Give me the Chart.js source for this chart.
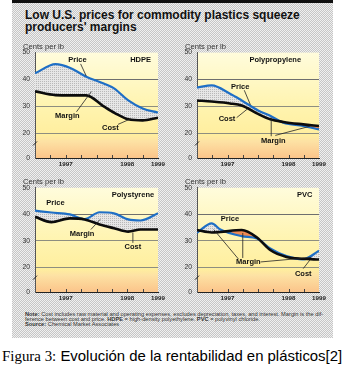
<!DOCTYPE html>
<html><head><meta charset="utf-8">
<script src="https://cdn.jsdelivr.net/npm/chart.js@4.4.1/dist/chart.umd.min.js"></script>
<style>
html,body{margin:0;padding:0;background:#fff}
body{width:345px;height:378px;position:relative;overflow:hidden;font-family:"Liberation Sans",Arial,sans-serif}
#box{position:absolute;left:12px;top:0;width:321px;height:338px;background:repeating-conic-gradient(#c6c6c6 0% 25%,#f0f0f0 0% 50%) 0 0/2px 2px}
#bar{position:absolute;left:12px;top:0;width:321px;height:3px;background:#111}
#title{position:absolute;left:25px;top:9px;font-weight:bold;font-size:12px;line-height:12px;color:#111;white-space:nowrap}
#note{position:absolute;left:25px;top:311.5px;font-size:5.7px;line-height:5.2px;color:#333;white-space:nowrap}
#cap{position:absolute;left:2px;top:347px;font-size:13px;white-space:nowrap;color:#000}
.serif{font-family:"Liberation Serif","DejaVu Serif",serif}
.sans{font-family:"Liberation Sans","DejaVu Sans",sans-serif}
canvas{position:absolute}
</style></head><body>
<div id="box"></div><div id="bar"></div>
<div id="title">Low U.S. prices for commodity plastics squeeze<br>producers' margins</div>
<canvas id="c1"></canvas><canvas id="c2"></canvas><canvas id="c3"></canvas><canvas id="c4"></canvas>
<div id="note"><b>Note:</b> Cost includes raw material and operating expenses, excludes depreciation, taxes, and interest. Margin is the dif-<br>ference between cost and price. <b>HDPE</b> = high-density polyethylene. <b>PVC</b> = polyvinyl chloride.<br><b>Source:</b> Chemical Market Associates</div>
<div id="cap"><span class="serif">Figura 3:</span> <span class="sans">Evolución de la rentabilidad en plásticos[2]</span></div>
<script>
// ---- data (months counted from Jan 1997) ----
const hdpeMonths = [0, 4, 7, 10, 13.4, 15.5, 18.2, 21, 24];
const hdpePrice  = [42.3, 45.7, 44.2, 41, 38.5, 36.6, 32.2, 29.2, 27.7];
const hdpeCost   = [35.6, 34.2, 34.1, 34.1, 30, 27.6, 25.2, 24.8, 25.8];

const ppMonths = [0, 2.9, 6.5, 8.8, 12.1, 14.4, 17, 20.9, 24];
const ppPrice  = [37, 37.8, 34.7, 32.2, 28.4, 26.5, 23.9, 22.7, 21.4];
const ppCost   = [32.2, 31.8, 31.1, 30.3, 27.1, 25.2, 24.2, 23.3, 22.7];

const psMonths = [0, 3.2, 6.8, 9.7, 12.6, 15.4, 18.2, 20.6, 24];
const psPrice  = [41.4, 40.7, 40, 38.2, 40.8, 40.4, 38.1, 37.7, 40.4];
const psCost   = [39.1, 37.1, 38.5, 38.1, 36.2, 34.8, 33.5, 34.3, 34.3];

const pvcMonths = [0, 2.9, 4.6, 8.8, 11.8, 14.4, 17.6, 20.9, 24];
const pvcPrice  = [33.1, 36.6, 34.3, 31.8, 30.9, 27.2, 24.3, 23.1, 26.3];
const pvcCost   = [34.1, 33.2, 33.4, 34.1, 31.3, 26.6, 24.0, 23.3, 23.0];

const yTickValues = [20, 30, 40, 50];
const yZeroLabel = "0";
const xLabelMonths = [6, 18, 24];
const xLabels = ["1997", "1998", "1999"];
const quarterTicks = [3, 6, 9, 12, 15, 18, 21];
const yMin = 10.8;

const pattern = (()=>{const c=document.createElement('canvas');c.width=2;c.height=2;const g=c.getContext('2d');g.fillStyle='#e6e6e6';g.fillRect(0,0,2,2);g.fillStyle='#b8b8b8';g.fillRect(0,0,1,1);return g.createPattern(c,'repeat');})();

function makeDeco(notes){
  return {
    id:'deco',
    beforeDraw(chart){
      const {ctx, chartArea:a}=chart;
      const g=ctx.createLinearGradient(0,a.top,0,a.bottom);
      g.addColorStop(0,'#fffcdc');g.addColorStop(0.5,'#fff4b0');g.addColorStop(0.78,'#ffee9e');
      g.addColorStop(0.84,'#fde2a4');g.addColorStop(1,'#fbc48a');
      ctx.save();ctx.fillStyle=g;ctx.fillRect(a.left,a.top,a.right-a.left,a.bottom-a.top);ctx.restore();
    },
    afterDatasetsDraw(chart){
      const {ctx, chartArea:a, scales:{x,y}}=chart;
      ctx.save();
      ctx.strokeStyle='#444';ctx.lineWidth=1;
      quarterTicks.forEach(m=>{const px=Math.round(x.getPixelForValue(m))+0.5;ctx.beginPath();ctx.moveTo(px,a.bottom);ctx.lineTo(px,a.bottom-3);ctx.stroke();});
      const by=y.getPixelForValue(16.2);
      ctx.strokeStyle='#222';ctx.lineWidth=1;ctx.beginPath();ctx.moveTo(a.left-2,by+2);ctx.lineTo(a.left+2,by-2);ctx.stroke();
      ctx.strokeStyle='#222';ctx.lineWidth=0.8;
      notes.leaders.forEach(l=>{ctx.beginPath();ctx.moveTo(x.getPixelForValue(l[0]),y.getPixelForValue(l[1]));ctx.lineTo(x.getPixelForValue(l[2]),y.getPixelForValue(l[3]));ctx.stroke();});
      ctx.fillStyle='#111';ctx.textAlign='center';ctx.textBaseline='middle';
      ctx.font='bold 7.5px "Liberation Sans", Arial, sans-serif';
      notes.labels.forEach(t=>{ctx.fillText(t[0],x.getPixelForValue(t[1]),y.getPixelForValue(t[2]));});
      ctx.textAlign='left';ctx.textBaseline='alphabetic';ctx.fillStyle='#333';
      ctx.font='7.6px "Liberation Sans", Arial, sans-serif';
      ctx.fillText('Cents per lb',a.left-12,a.top-3.5);
      ctx.textAlign='center';ctx.textBaseline='top';ctx.fillStyle='#222';
      ctx.font='bold 6.2px "Liberation Sans", Arial, sans-serif';
      xLabelMonths.forEach((m,i)=>{ctx.fillText(xLabels[i],x.getPixelForValue(m),a.bottom+3);});
      ctx.restore();
    }
  };
}

function makePanel(id, area, months, price, cost, notes){
  const padL=21, padR=14, axH=13;
  const cv=document.getElementById(id);
  const cTop=Math.floor(area.t)-15;
  const padT=area.t-cTop;
  const w=Math.round(area.r-area.l)+padL+padR;
  const h=Math.round(area.b-cTop)+axH;
  cv.width=w;cv.height=h;cv.style.width=w+'px';cv.style.height=h+'px';
  cv.style.left=(area.l-padL)+'px';cv.style.top=cTop+'px';
  new Chart(cv,{
    type:'line',
    data:{datasets:[
      {label:'Cost',data:months.map((m,i)=>({x:m,y:cost[i]})),borderColor:'#0c0c0c',borderWidth:2.6,pointRadius:0,fill:false,cubicInterpolationMode:'monotone'},
      {label:'Price',data:months.map((m,i)=>({x:m,y:price[i]})),borderColor:'#1f6fc6',borderWidth:2.2,pointRadius:0,cubicInterpolationMode:'monotone',
       fill:{target:0,above:pattern,below:'#ef8a52'}}
    ]},
    options:{
      responsive:false,animation:false,devicePixelRatio:1,
      layout:{padding:{left:0,top:padT,right:padR,bottom:0}},
      plugins:{legend:{display:false},tooltip:{enabled:false},filler:{drawTime:'beforeDatasetsDraw'}},
      scales:{
        x:{type:'linear',min:0,max:24,
          afterFit:s=>{s.height=axH;},
          ticks:{display:false},
          grid:{display:false},border:{display:true,color:'#222',width:1}},
        y:{min:yMin,max:50,
          afterFit:s=>{s.width=padL;},
          afterBuildTicks:s=>{s.ticks=[yMin,...yTickValues].map(v=>({value:v}));},
          ticks:{padding:5,color:'#333',font:{size:6.8,family:'Liberation Sans'},
            callback:v=>v===yMin?yZeroLabel:String(v)},
          grid:{drawTicks:false,lineWidth:1,color:c=>{const v=c.tick&&c.tick.value;return v===40?'#6e6e6e':(v===30||v===20)?'#8e8e80':'rgba(0,0,0,0)';}},
          border:{display:true,color:'#555',width:1}}
      }
    },
    plugins:[makeDeco(notes)]
  });
}

makePanel('c1',{l:35,r:158,t:52.6,b:157.5},hdpeMonths,hdpePrice,hdpeCost,{
  labels:[['Price',8.3,47.3],['HDPE',20.6,47.3],['Margin',6.3,26.5],['Cost',14.7,22]],
  leaders:[[8.9,45.8,10,41.3],[8.1,28,11,35.5],[16.2,23.3,18.7,25.4]]});
makePanel('c2',{l:197,r:319,t:52.6,b:157.5},ppMonths,ppPrice,ppCost,{
  labels:[['Polypropylene',15.4,47.3],['Price',8.5,37.2],['Cost',5.9,25.2],['Margin',15,17.3]],
  leaders:[[9.3,36,10.5,30.6],[7.8,25.8,9.9,29],[14.6,18.9,14.6,25.8],[15.4,19.2,22.2,22.6]]});
makePanel('c3',{l:35,r:158,t:187.8,b:292},psMonths,psPrice,psCost,{
  labels:[['Polystyrene',19.1,47.3],['Price',4,44.4],['Margin',9.2,32.8],['Cost',19.1,27.8]],
  leaders:[[10.9,34.3,12.7,38.1],[19.1,29.3,19.1,33.2]]});
makePanel('c4',{l:197,r:319,t:187.8,b:292},pvcMonths,pvcPrice,pvcCost,{
  labels:[['PVC',21.2,47.3],['Price',6.5,38.1],['Margin',10.1,22.1],['Cost',20.9,17.7]],
  leaders:[[8.2,23.1,3.3,34.3],[9,23.6,9,33],[12.5,22.1,22.5,23.8],[20.9,19.6,22.2,22.8]]});

(function(){const c=document.getElementById('cap');const w=c.offsetWidth;c.style.fontSize=(13*341/w)+'px';})();
</script>
</body></html>
